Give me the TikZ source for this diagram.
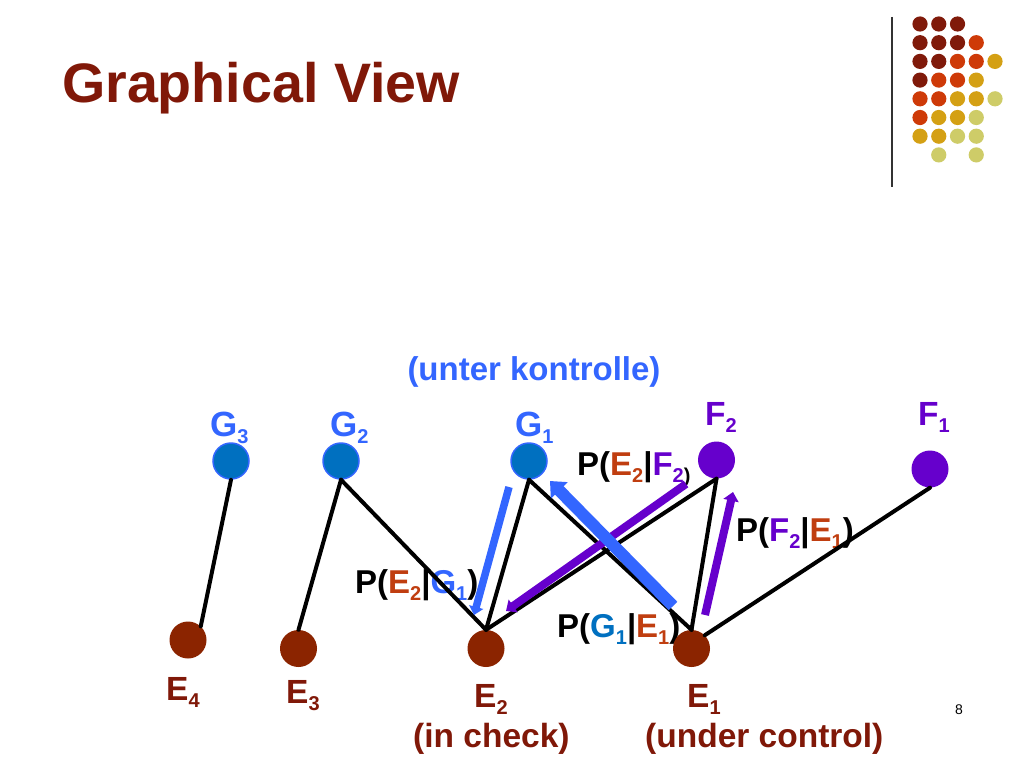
\documentclass[tikz,border=0pt]{standalone}
\usepackage{fontspec}
\setmainfont{Liberation Sans}
\usetikzlibrary{arrows.meta}
\newcommand\fs[1]{\fontsize{#1}{#1}\selectfont}
\newcommand\subx[1]{\raisebox{-7pt}{\fs{20}#1}}
\newcommand\subp[1]{\raisebox{-7pt}{\fs{20}#1}}
\definecolor{titlered}{RGB}{128,24,8}
\definecolor{enode}{RGB}{139,36,0}
\definecolor{redtxt}{RGB}{192,62,16}
\definecolor{gfill}{RGB}{0,112,192}
\definecolor{lblue}{RGB}{51,102,255}
\definecolor{purp}{RGB}{102,0,204}
\definecolor{dotc1}{RGB}{128,26,10}
\definecolor{dotc2}{RGB}{206,58,8}
\definecolor{dotc3}{RGB}{212,160,20}
\definecolor{dotc4}{RGB}{206,204,104}
\tikzset{
  gnode/.style={circle,minimum size=36pt,inner sep=0pt,fill=gfill,draw=lblue,line width=1.5pt},
  fnode/.style={circle,minimum size=37pt,inner sep=0pt,fill=purp},
  enodes/.style={circle,minimum size=37pt,inner sep=0pt,fill=enode},
  lab/.style={inner sep=0pt,anchor=base west,font=\bfseries\fs{33.5}},
  plab/.style={inner sep=0pt,anchor=base west,font=\bfseries\fs{33}},
  edge/.style={line width=4pt,black,line cap=round},
  barrow/.style={line width=#1,lblue,-{Triangle[length=1.1*#1,width=1.9*#1]}},
  parrow/.style={line width=#1,purp,-{Triangle[length=1.1*#1,width=1.9*#1]}},
}
\begin{document}
\begin{tikzpicture}[x=1pt,y=-1pt]
\useasboundingbox (0,0) rectangle (1024,768);
\fill[white] (0,0) rectangle (1024,768);
% decoration
\draw[line width=1.8pt,black!80] (892,17) -- (892,187);
\foreach \rr/\lst in {0/{1,1,1,0,0},1/{1,1,1,2,0},2/{1,1,2,2,3},3/{1,2,2,3,0},4/{2,2,3,3,4},5/{2,3,3,4,0},6/{3,3,4,4,0},7/{0,4,0,4,0}}{
  \foreach \cc [count=\ii from 0] in \lst {
    \ifnum\cc>0 \fill[fill=dotc\cc] ({920+18.75*\ii},{24+18.7*\rr}) circle[radius=7.6pt];\fi
  }
}
% title
\node[inner sep=0pt,anchor=base west,font=\bfseries\fs{55.6},text=titlered] (title) at (62,102) {Graphical View};
% top labels
\node[inner sep=0pt,anchor=base,font=\bfseries\fs{33},text=lblue] (unter) at (534,380) {(unter kontrolle)};
\node[lab,font=\bfseries\fs{35},text=lblue] (tG3) at (210,436) {G\subx{3}};
\node[lab,font=\bfseries\fs{35},text=lblue] (tG2) at (330,436) {G\subx{2}};
\node[lab,font=\bfseries\fs{35},text=lblue] (tG1) at (515,436) {G\subx{1}};
\node[lab,text=purp] (tF2) at (705,425) {F\subx{2}};
\node[lab,text=purp] (tF1) at (918,425) {F\subx{1}};
% bottom labels
\node[lab,text=titlered] (tE4) at (166,700) {E\subx{4}};
\node[lab,text=titlered] (tE3) at (286,703) {E\subx{3}};
\node[lab,text=titlered] (tE2) at (474,707) {E\subx{2}};
\node[lab,text=titlered] (tE1) at (687,707) {E\subx{1}};
\node[lab,text=titlered] (check) at (413,747) {(in check)};
\node[lab,text=titlered] (control) at (645,747) {(under control)};
\node[inner sep=0pt,anchor=base,font=\fs{14}] (page) at (959,714) {8};
% probability labels
\node[plab] (pEF) at (577,475) {P(\textcolor{redtxt}{E\subp{2}}|\textcolor{purp}{F\subp{2}}\subp{)}};
\node[plab] (pFE) at (736,541) {P(\textcolor{purp}{F\subp{2}}|\textcolor{redtxt}{E\subp{1}})};
\node[plab] (pEG) at (355,593) {P(\textcolor{redtxt}{E\subp{2}}|\textcolor{lblue}{G\subp{1}})};
\node[plab] (pGE) at (557,637) {P(\textcolor{gfill}{G\subp{1}}|\textcolor{redtxt}{E\subp{1}})};
% nodes
\node[gnode] (G3) at (231,461) {};
\node[gnode] (G2) at (341,461) {};
\node[gnode] (G1) at (529,461) {};
\node[fnode] (F2) at (716.5,460) {};
\node[fnode] (F1) at (930,469) {};
\node[enodes] (E4) at (188,640) {};
\node[enodes] (E3) at (298.5,648.5) {};
\node[enodes] (E2) at (486,648.5) {};
\node[enodes] (E1) at (691.5,648.5) {};
% edges
\draw[edge] (G3.south) -- (E4.47);
\draw[edge] (G2.south) -- (E3.north);
\draw[edge] (G2.south) -- (E2.north);
\draw[edge] (G1.south) -- (E2.north);
\draw[edge] (G1.south) -- (E1.north);
\draw[edge] (F2.south) -- (E2.north);
\draw[edge] (F2.south) -- (E1.north);
\draw[edge] (F1.south) -- (E1.north east);
% influence arrows
\coordinate (aGEs) at (509,487);
\coordinate (aGEe) at (474,615);
\coordinate (aEGs) at (673,606);
\coordinate (aEGe) at (550,481);
\coordinate (aFEs) at (686,484);
\coordinate (aFEe) at (506,611);
\coordinate (aEFs) at (705,615);
\coordinate (aEFe) at (733,492);
\draw[parrow=8pt] (aFEs) -- (aFEe);
\draw[parrow=8pt] (aEFs) -- (aEFe);
\draw[barrow=7.5pt] (aGEs) -- (aGEe);
\draw[barrow=12pt] (aEGs) -- (aEGe);
\end{tikzpicture}
\end{document}
